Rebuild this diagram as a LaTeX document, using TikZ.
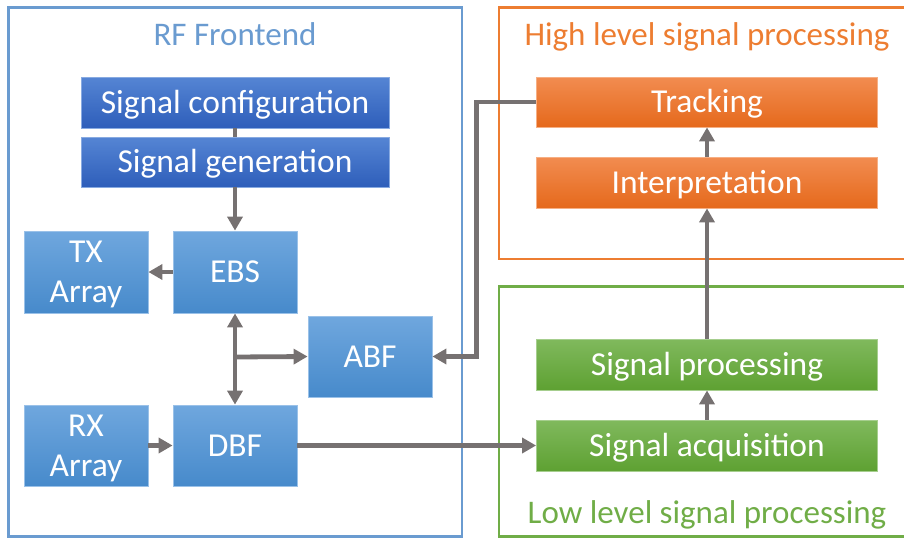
\documentclass[tikz,border=0pt]{standalone}
\usepackage{fontspec}
\setmainfont{Carlito}
\usetikzlibrary{arrows.meta,shadings}
\definecolor{arrgray}{HTML}{767171}
\definecolor{rfline}{HTML}{6A9BD0}
\definecolor{orline}{HTML}{ED7D31}
\definecolor{grline}{HTML}{70AD47}
\definecolor{dbTop}{HTML}{5585D4}
\definecolor{dbBot}{HTML}{2E5EBA}
\definecolor{lbTop}{HTML}{6FA7DE}
\definecolor{lbBot}{HTML}{478ACB}
\definecolor{orTop}{HTML}{F28C50}
\definecolor{orBot}{HTML}{E5691C}
\definecolor{grTop}{HTML}{80B95D}
\definecolor{grBot}{HTML}{5EA132}
\tikzset{
  cen/.style={text height=26pt, text depth=4.4pt},
  twoline/.style={text height=66pt, text depth=4.4pt},
  base/.style={cen, draw=#1, line width=0.8pt, text=white, align=center, inner sep=0pt,
    font=\fontsize{33.5}{40}\selectfont},
  darkblue/.style={base=dbTop!70!white, top color=dbTop, bottom color=dbBot, minimum width=308pt, minimum height=51pt},
  lightblue/.style={base=lbTop!70!white, top color=lbTop, bottom color=lbBot, minimum width=124pt, minimum height=82pt},
  orangebox/.style={base=orTop!70!white, top color=orTop, bottom color=orBot, minimum width=341pt, minimum height=51pt},
  greenbox/.style={base=grTop!70!white, top color=grTop, bottom color=grBot, minimum width=341pt, minimum height=51pt},
  arr/.style={draw=arrgray, line width=4.8pt, -{Triangle[length=14pt,width=15pt]}},
  plain/.style={draw=arrgray, line width=4.8pt},
  container/.style={line width=2.4pt},
  title/.style={cen, font=\fontsize{33}{40}\selectfont, inner sep=0pt},
}
\begin{document}
\begin{tikzpicture}[x=1pt,y=-1pt]
\useasboundingbox (0,0) rectangle (904,538);
% containers
\draw[container, rfline] (8.5,7.5) rectangle (462,536.5);
\draw[container, orline] (499,7.5) rectangle (912,259);
\draw[container, grline] (499,286.5) rectangle (912,536.5);
\node[title, text=rfline] (t1) at (235,34.2) {RF Frontend};
\node[title, text=orline] (t2) at (707,34.5) {High level signal processing};
\node[title, text=grline] (t3) at (707,512.7) {Low level signal processing};
% RF nodes
\node[darkblue] (conf) at (235,102.5) {Signal configuration};
\node[darkblue, minimum height=50pt] (gen) at (235,162) {Signal generation};
\node[lightblue, twoline] (tx) at (86,272) {TX\\Array};
\node[lightblue] (ebs) at (235,272) {EBS};
\node[lightblue, minimum height=81pt] (abf) at (370,356.5) {ABF};
\node[lightblue, twoline, minimum height=81pt] (rx) at (86,445.5) {RX\\Array};
\node[lightblue, minimum height=81pt] (dbf) at (235,445.5) {DBF};
% right nodes
\node[orangebox, minimum height=50pt] (trk) at (707,102) {Tracking};
\node[orangebox] (intp) at (707,182.5) {Interpretation};
\node[greenbox] (proc) at (707,364.5) {Signal processing};
\node[greenbox] (acq) at (707,445.5) {Signal acquisition};
% connectors
\draw[plain] (conf.south) -- (gen.north);
\draw[arr] (gen.south) -- (ebs.north);
\draw[arr] (ebs.west) -- (tx.east);
\draw[arr, {Triangle[length=14pt,width=15pt]}-{Triangle[length=14pt,width=15pt]}] (ebs.south) -- (dbf.north);
\coordinate (br) at (235,357);
\draw[arr] (br) -- (abf.west);
\draw[arr] (trk.west) -- ++(-60,0) |- (abf.east);
\draw[arr] (rx.east) -- (dbf.west);
\draw[arr] (dbf.east) -- (acq.west);
\draw[arr] (acq.north) -- (proc.south);
\draw[arr] (proc.north) -- (intp.south);
\draw[arr] (intp.north) -- (trk.south);
\end{tikzpicture}
\end{document}
